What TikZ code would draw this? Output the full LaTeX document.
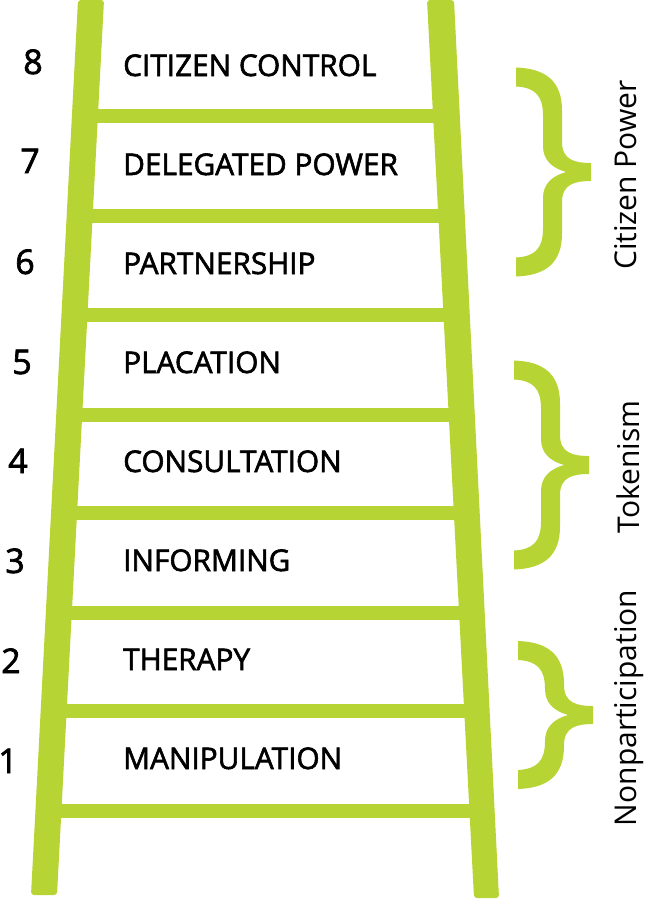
\documentclass[tikz,border=0pt]{standalone}
\usepackage{fontspec}
\setmainfont{Open Sans}
\newfontfamily\labfont{Open Sans}[FakeBold=2]
\definecolor{ladgreen}{RGB}{182,212,52}
\newcommand\grpbrace[3]{%
  \begin{scope}[shift={(#1,#2)}]
    \fill[ladgreen] (516,{-#3}) .. controls (545,{-#3+1}) and (562,{-#3+13}) .. (562,{-#3+43})
      -- (562,-30)
      .. controls (562,-12) and (575,-9) .. (591,-9)
      -- (591,9)
      .. controls (575,9) and (562,12) .. (562,30)
      -- (562,{#3-43})
      .. controls (562,{#3-13}) and (545,{#3-1}) .. (516,{#3})
      -- (516,{#3-19})
      .. controls (535,{#3-20}) and (543,{#3-28}) .. (543,{#3-48})
      -- (543,26)
      .. controls (543,12) and (552,4) .. (566,0)
      .. controls (552,-4) and (543,-12) .. (543,-26)
      -- (543,{-#3+48})
      .. controls (543,{-#3+28}) and (535,{-#3+20}) .. (516,{-#3+19})
      -- cycle;
  \end{scope}}
\begin{document}
\begin{tikzpicture}[x=1pt,y=-1pt,
  lab/.style={inner sep=0pt, anchor=base west, font=\labfont\fontsize{29.8}{31}\selectfont},
  num/.style={inner sep=0pt, anchor=base, font=\labfont\fontsize{34}{36}\selectfont},
  grp/.style={inner sep=0pt, rotate=90, font=\fontsize{30}{32}\selectfont}]
\useasboundingbox (0,0) rectangle (646,899);
\fill[white] (0,0) rectangle (646,899);
% rails
\fill[ladgreen, rounded corners=3pt] (78,0) -- (104,0) -- (57,895) -- (31,895) -- cycle;
\fill[ladgreen, rounded corners=3pt] (427,0) -- (454,0) -- (499,898) -- (474,898) -- cycle;
% rungs
\foreach \yy in {116,216,315,415,513,613,711,811}
  \fill[ladgreen] ({91-0.0525*\yy},{\yy-7}) rectangle ({440.5+0.0524*\yy},{\yy+7});
% labels
\node[lab] (l8) at (123,76) {CITIZEN CONTROL};
\node[lab] (l7) at (123,175) {DELEGATED POWER};
\node[lab] (l6) at (123,274) {PARTNERSHIP};
\node[lab] (l5) at (123,373) {PLACATION};
\node[lab] (l4) at (123,472) {CONSULTATION};
\node[lab] (l3) at (123,571) {INFORMING};
\node[lab] (l2) at (123,670) {THERAPY};
\node[lab] (l1) at (123,769) {MANIPULATION};
% numbers
\node[num] (n8) at (33,74) {8};
\node[num] (n7) at (30,173) {7};
\node[num] (n6) at (25,274) {6};
\node[num] (n5) at (22,374) {5};
\node[num] (n4) at (18,473) {4};
\node[num] (n3) at (15,573) {3};
\node[num] (n2) at (11,673) {2};
\node[num] (n1) at (8,773) {1};
% braces
\grpbrace{0}{172}{104.5}
\grpbrace{-2}{465}{104.5}
\grpbrace{2}{715}{74}
% group labels
\node[grp] (g3) at (626,175) {Citizen Power};
\node[grp] (g2) at (628,467) {Tokenism};
\node[grp] (g1) at (629,708) {Nonparticipation};
\end{tikzpicture}
\end{document}
